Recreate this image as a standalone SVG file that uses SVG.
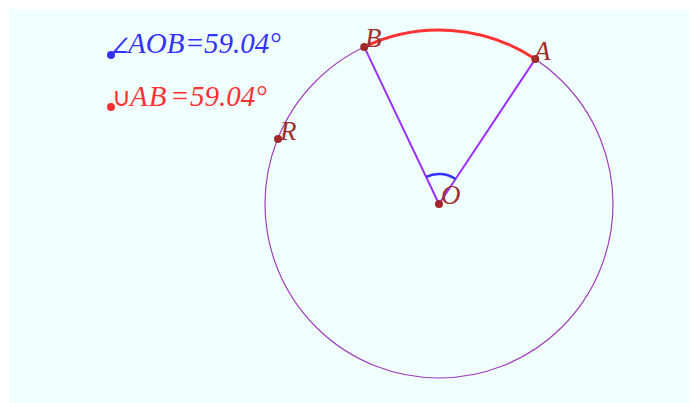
<svg xmlns="http://www.w3.org/2000/svg" width="689" height="403" viewBox="0 0 689 403">
<style>
.lbl{font-family:"Liberation Serif","Times New Roman",serif;font-style:italic;font-size:27px;fill:#a03030}
.pt{fill:#a02828}
.meas{font-family:"Liberation Serif","Times New Roman",serif;font-style:italic;font-size:29px}
.sym{font-size:21px}
</style>
<rect x="0" y="0" width="689" height="403" fill="#ffffff"/>
<rect x="9" y="9" width="680" height="394" fill="#f0ffff"/>
<g id="connectors">
<circle id="circle" cx="439" cy="204" r="174" fill="none" stroke="#a040c0" stroke-width="1.2"/>
<line x1="439" y1="204" x2="535.3" y2="59.1" stroke="#9933ff" stroke-width="2"/>
<line x1="439" y1="204" x2="364.2" y2="46.9" stroke="#9933ff" stroke-width="2"/>
<path id="arcAB" d="M364.2 46.9 A174 174 0 0 1 535.3 59.1" fill="none" stroke="#ff3333" stroke-width="3"/>
<path id="angleMark" d="M426.2 176.8 A30 30 0 0 1 455.6 179" fill="none" stroke="#3333ff" stroke-width="2.5"/>
</g>
<g id="nodeO"><circle class="pt" cx="439" cy="204" r="4"/><text class="lbl" x="441" y="204">O</text></g>
<g id="nodeA"><circle class="pt" cx="535.3" cy="59.1" r="4"/><text class="lbl" x="534" y="60">A</text></g>
<g id="nodeB"><circle class="pt" cx="364.2" cy="46.9" r="4"/><text class="lbl" x="365" y="47">B</text></g>
<g id="nodeR"><circle class="pt" cx="278" cy="139" r="4"/><text class="lbl" x="280" y="140">R</text></g>
<g id="angleMeasure"><circle cx="111" cy="55" r="4" fill="#3333ff"/><text class="meas" y="53" fill="#3333ff"><tspan class="sym" x="110">∠</tspan><tspan x="128">AOB</tspan><tspan x="185">=</tspan><tspan x="204">59.04°</tspan></text></g>
<g id="arcMeasure"><circle cx="111" cy="107" r="4" fill="#ff3333"/><text class="meas" y="106" fill="#ff3333"><tspan x="112" font-size="26px" font-style="normal">∪</tspan><tspan x="130" letter-spacing="1">AB</tspan><tspan x="170">=</tspan><tspan x="190">59.04°</tspan></text></g>
</svg>
